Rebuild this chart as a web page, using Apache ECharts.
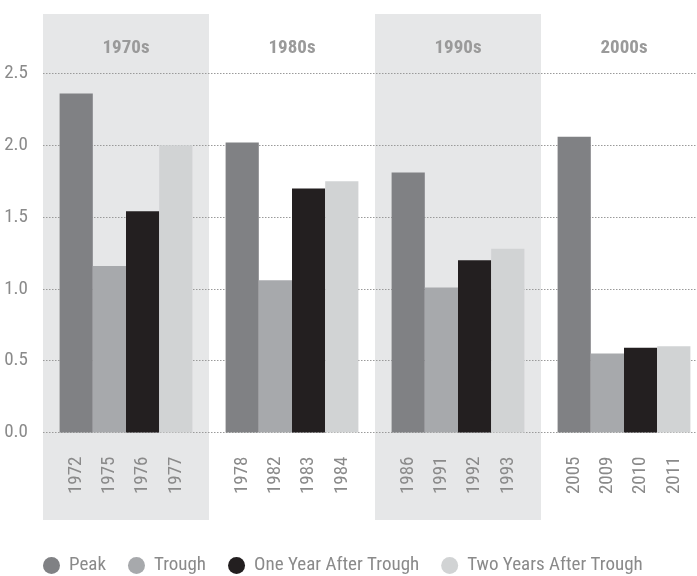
<!DOCTYPE html>
<html>
<head>
<meta charset="utf-8">
<script src="https://cdn.jsdelivr.net/npm/echarts@6/dist/echarts.min.js"></script>
<style>html,body{margin:0;padding:0;background:#fff}#c{width:697px;height:576px}</style>
</head>
<body>
<div id="c"></div>
<script>
const decades = ['1970s', '1980s', '1990s', '2000s'];
const shaded = [1, 0, 1, 0];
const seriesNames = ['Peak', 'Trough', 'One Year After Trough', 'Two Years After Trough'];
const peakYears = ['1972', '1978', '1986', '2005'];
const troughYears = ['1975', '1982', '1991', '2009'];
const oneYearYears = ['1976', '1983', '1992', '2010'];
const twoYearsYears = ['1977', '1984', '1993', '2011'];
const peak = [2.36, 2.02, 1.81, 2.06];
const trough = [1.16, 1.06, 1.01, 0.55];
const oneYear = [1.54, 1.70, 1.20, 0.59];
const twoYears = [2.00, 1.75, 1.28, 0.60];
const yMin = 0, yMax = 2.5, yStep = 0.5;

const FONT = "'Roboto Condensed','Liberation Sans Narrow','Arial Narrow','DejaVu Sans Condensed',Roboto,sans-serif";
const colors = ['#808184', '#a7a9ac', '#231f20', '#d1d3d4'];
const values = [peak, trough, oneYear, twoYears];
const years = [peakYears, troughYears, oneYearYears, twoYearsYears];

const chart = echarts.init(document.getElementById('c'), null, {renderer: 'canvas'});
const barSeries = seriesNames.map((name, i) => ({
  name: name,
  type: 'bar',
  xAxisIndex: 0,
  yAxisIndex: 0,
  z: 2,
  barGap: '0%',
  barCategoryGap: '20%',
  itemStyle: {color: colors[i]},
  data: values[i],
  label: {
    show: true,
    position: 'bottom',
    distance: 24,
    rotate: 90,
    align: 'right',
    verticalAlign: 'middle',
    color: '#8a8a8a',
    fontFamily: FONT,
    fontSize: 19,
    formatter: p => years[i][p.dataIndex]
  },
  emphasis: {disabled: true}
}));

chart.setOption({
  animation: false,
  color: colors,
  grid: [
    {left: 43, width: 664, top: 73.5, height: 359, outerBoundsMode: 'none', containLabel: false},
    {left: 43, width: 664, top: 14, height: 506, outerBoundsMode: 'none', containLabel: false}
  ],
  xAxis: [
    {type: 'category', gridIndex: 0, data: decades, axisLine: {show: false}, axisTick: {show: false}, axisLabel: {show: false}},
    {type: 'category', gridIndex: 1, data: decades, position: 'top', z: 1,
     axisLine: {show: false}, axisTick: {show: false},
     axisLabel: {inside: true, margin: 25, color: '#9a9a9a', fontWeight: 'bold', fontSize: 19, fontFamily: FONT}}
  ],
  yAxis: [
    {type: 'value', gridIndex: 0, min: yMin, max: yMax, interval: yStep, z: 1,
     axisLine: {show: false}, axisTick: {show: false},
     axisLabel: {color: '#8a8a8a', fontSize: 19, fontFamily: FONT, margin: 15, formatter: v => v.toFixed(1)},
     splitLine: {show: true, lineStyle: {color: '#9a9a9a', type: [1.5, 1.5], width: 1}}},
    {type: 'value', gridIndex: 1, min: 0, max: 1, show: false, splitLine: {show: false}}
  ],
  legend: {
    data: seriesNames,
    left: 43,
    top: 556,
    padding: 0,
    icon: 'circle',
    itemWidth: 17,
    itemHeight: 17,
    itemGap: 22,
    textStyle: {color: '#8a8a8a', fontSize: 19, fontFamily: FONT, padding: [0, 0, 0, 4]}
  },
  series: [
    {type: 'bar', name: 'band', xAxisIndex: 1, yAxisIndex: 1, z: 0, silent: true,
     barWidth: '100%', itemStyle: {color: '#e6e7e8'}, data: shaded, emphasis: {disabled: true}},
    ...barSeries
  ]
});
</script>
</body>
</html>
